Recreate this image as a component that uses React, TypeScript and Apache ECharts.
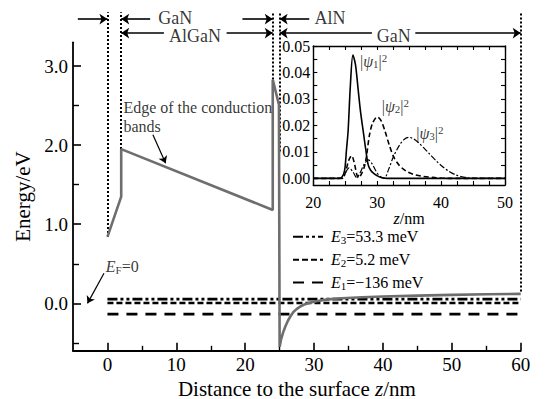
import React, { useEffect, useRef } from "react";
import * as echarts from "echarts";

const FONT = "Liberation Serif";

// ---------- main chart data ----------
const xLabelValues = [0, 10, 20, 30, 40, 50, 60];
const xMinorValues = [5, 15, 25, 35, 45, 55];
const yLabelValues = [0, 1, 2, 3];
const yMinorValues = [-0.5, 0.5, 1.5, 2.5];

// conduction band edge (z in nm, E in eV)
const cbZ = [0, 2, 2, 24, 24, 24.9, 25, 25.2, 25.5, 25.8, 26.2, 26.6, 27.0, 27.5, 28.0, 28.7, 29.5, 30.5, 32, 34, 37, 40, 45, 50, 55, 60];
const cbE = [0.84, 1.35, 1.95, 1.18, 2.83, 2.51, -0.55, -0.46, -0.37, -0.3, -0.22, -0.16, -0.11, -0.07, -0.04, -0.01, 0.01, 0.03, 0.05, 0.065, 0.077, 0.086, 0.098, 0.107, 0.114, 0.12];

// energy levels
const levelNames = ["E3", "E2", "E1"];
const levelSubs = ["3", "2", "1"];
const levelTexts = ["=53.3 meV", "=5.2 meV", "=\u2212136 meV"];
const levelValues = [0.0533, 0.0052, -0.136];
const levelRange = [0, 60];

// layer boundaries (dotted)
const boundaryZ = [0, 2, 24, 25, 60];
const boundaryBottom = [0.84, 1.95, 2.83, 1.92, 0.15];
const boundaryTop = 3.68;

// layer arrows [from z, to z] at two rows
const row1E = 3.594;
const row2E = 3.417;
const row1Arrows = [[-4.3, 0], [6.2, 2], [19.6, 24], [29.3, 25]];
const row2Arrows = [[8.2, 2], [17.3, 24], [38.4, 25], [44.7, 60]];
const layerLabels = ["GaN", "AlN", "AlGaN", "GaN"];
const layerLabelZ = [9.83, 30.05, 12.72, 41.57];
const layerLabelE = [3.61, 3.61, 3.38, 3.38];
const layerLabelAlign = ["center", "left", "center", "center"];

// annotation arrows [[z1,E1],[z2,E2]]
const noteArrows = [
  [[6.6, 2.13], [8.45, 1.77]],
  [[-0.5, 0.38], [-2.9, 0.0]],
];

// ---------- inset data ----------
const insetXTicks = [20, 22.5, 25, 27.5, 30, 32.5, 35, 37.5, 40, 42.5, 45, 47.5, 50];
const insetXLabels = [20, 30, 40, 50];
const insetYTicks = [0, 0.005, 0.01, 0.015, 0.02, 0.025, 0.03, 0.035, 0.04, 0.045, 0.05];
const insetYLabels = [0, 0.01, 0.02, 0.03, 0.04, 0.05];

const psiZ1 = [20, 24.0, 24.5, 24.9, 25.2, 25.45, 25.8, 26.2, 26.6, 27.0, 27.4, 27.8, 28.2, 28.6, 29.0, 29.5, 30.0, 30.5, 31.5, 50];
const psi1 = [0, 0, 0.0005, 0.003, 0.011, 0.018, 0.035, 0.0466, 0.043, 0.034, 0.025, 0.018, 0.011, 0.005, 0.003, 0.0018, 0.001, 0.0004, 0, 0];

const psiZ2 = [20, 24.5, 25.0, 25.5, 26.0, 26.4, 26.8, 27.1, 27.5, 28.0, 28.3, 28.8, 29.3, 30.0, 30.6, 31.2, 31.9, 32.6, 33.5, 34.5, 35.6, 37, 39, 41, 50];
const psi2 = [0, 0, 0.002, 0.0065, 0.0086, 0.006, 0.0015, 0.0002, 0.0015, 0.0045, 0.008, 0.0165, 0.021, 0.0232, 0.0218, 0.018, 0.0125, 0.008, 0.0048, 0.0028, 0.0016, 0.0008, 0.0003, 0, 0];

const psiZ3 = [20, 24.5, 25.0, 25.6, 26.2, 26.8, 27.3, 28.0, 28.6, 29.2, 29.8, 30.4, 31.1, 31.8, 32.5, 33.5, 34.3, 35.0, 35.7, 36.5, 37.3, 38.2, 39.2, 40.2, 41.2, 42.3, 43.5, 45.5, 50];
const psi3 = [0, 0, 0.002, 0.004, 0.0025, 0.0003, 0.002, 0.0055, 0.007, 0.0055, 0.0028, 0.0008, 0, 0.0035, 0.008, 0.0126, 0.0149, 0.0155, 0.0149, 0.0134, 0.0115, 0.0092, 0.0067, 0.0045, 0.0027, 0.0013, 0.0005, 0, 0];

const psiSubs = ["1", "2", "3"];
const psiLabelZ = [27.3, 30.7, 36.1];
const psiLabelV = [0.0443, 0.0273, 0.0171];

const pairs = (xs: number[], ys: number[]) => xs.map((x, i) => [x, ys[i]]);

const richBase = {
  i: { fontStyle: "italic", fontFamily: FONT, fontSize: 16, lineHeight: 14, color: "#000" },
  n: { fontFamily: FONT, fontSize: 16, lineHeight: 14, color: "#000" },
  sub: { fontFamily: FONT, fontSize: 11, lineHeight: 10, color: "#000", padding: [6, 0, 0, 0] },
  sup: { fontFamily: FONT, fontSize: 11, lineHeight: 10, color: "#000", padding: [0, 0, 6, 0] },
};

const tickStyle = (w: number) => ({ color: "#000", width: w });

export default function App() {
  const ref = useRef<HTMLDivElement>(null);
  useEffect(() => {
    if (!ref.current) return;
    const chart = echarts.init(ref.current, null, { renderer: "svg" });
    const levelDash: any[] = [[10, 3, 3, 3, 3, 3], [6, 3], [11, 8]];

    const textItem = (z: number, e: number, text: string, align: string, vAlign = "middle", extra: any = {}) => ({
      value: [z, e],
      label: { show: true, position: [0, 0], align, verticalAlign: vAlign, formatter: text, fontFamily: FONT, ...extra },
    });

    const option: any = {
      animation: false,
      backgroundColor: "#fff",
      textStyle: { fontFamily: FONT, color: "#000" },
      grid: [
        { left: 73, right: 24.3, top: 42.3, bottom: 48.2, outerBoundsMode: "none", containLabel: false },
        { left: 313.3, width: 191.7, top: 46, height: 139, outerBoundsMode: "none", containLabel: false },
      ],
      legend: {
        data: levelNames,
        orient: "vertical",
        left: 292,
        top: 228.3,
        padding: 0,
        itemWidth: 30,
        itemHeight: 14,
        itemGap: 5.85,
        selectedMode: false,
        itemStyle: { opacity: 0 },
        lineStyle: { opacity: 1 },
        formatter: (name: string) => {
          const k = levelNames.indexOf(name);
          return `{i|E}{sub|${levelSubs[k]}}{n|${levelTexts[k]}}`;
        },
        textStyle: { fontFamily: FONT, fontSize: 16, color: "#000", padding: [0, 0, 0, 3], rich: richBase },
      },
      xAxis: [
        {
          gridIndex: 0, type: "value", min: -5, max: 60, position: "bottom",
          axisLine: { onZero: false, lineStyle: { color: "#000", width: 1.8 } },
          axisTick: { inside: true, length: 8, customValues: xLabelValues, lineStyle: tickStyle(1.6) },
          axisLabel: { customValues: xLabelValues, margin: 4, fontSize: 19, fontFamily: FONT, color: "#000" },
          splitLine: { show: false },
          name: "Distance to the surface {i|z}{n|/nm}",
          nameLocation: "middle",
          nameGap: 19,
          nameTextStyle: {
            fontSize: 21, lineHeight: 21, fontFamily: FONT, color: "#000",
            rich: { i: { fontStyle: "italic", fontSize: 21, lineHeight: 21, fontFamily: FONT }, n: { fontSize: 21, lineHeight: 21, fontFamily: FONT } },
          },
        },
        {
          gridIndex: 0, type: "value", min: -5, max: 60, position: "bottom",
          axisLine: { show: false, onZero: false },
          axisTick: { inside: true, length: 5, customValues: xMinorValues, lineStyle: tickStyle(1.4) },
          axisLabel: { show: false },
          splitLine: { show: false },
        },
        {
          gridIndex: 1, type: "value", min: 20, max: 50, position: "bottom",
          axisLine: { onZero: false, lineStyle: { color: "#000", width: 1.4 } },
          axisTick: { inside: true, length: 4, customValues: insetXTicks, lineStyle: tickStyle(1.1) },
          axisLabel: { customValues: insetXLabels, margin: 9, fontSize: 16, fontFamily: FONT, color: "#000" },
          splitLine: { show: false },
          name: "{i|z}{n|/nm}",
          nameLocation: "middle",
          nameGap: 24,
          nameTextStyle: {
            fontSize: 16, lineHeight: 14, fontFamily: FONT, color: "#000",
            rich: { i: { fontStyle: "italic", fontSize: 16, lineHeight: 14, fontFamily: FONT }, n: { fontSize: 16, lineHeight: 14, fontFamily: FONT } },
          },
        },
        {
          gridIndex: 1, type: "value", min: 20, max: 50, position: "top",
          axisLine: { onZero: false, lineStyle: { color: "#000", width: 1.4 } },
          axisTick: { inside: true, length: 4, customValues: insetXTicks, lineStyle: tickStyle(1.1) },
          axisLabel: { show: false },
          splitLine: { show: false },
        },
      ],
      yAxis: [
        {
          gridIndex: 0, type: "value", min: -0.6, max: 3.3, position: "left",
          axisLine: { show: true, onZero: false, lineStyle: { color: "#000", width: 1.8 } },
          axisTick: { show: true, inside: true, length: 8, customValues: yLabelValues, lineStyle: tickStyle(1.6) },
          axisLabel: { customValues: yLabelValues, margin: 5, fontSize: 19, fontFamily: FONT, color: "#000", formatter: (v: number) => v.toFixed(1) },
          splitLine: { show: false },
          name: "Energy/eV",
          nameLocation: "middle",
          nameGap: 38,
          nameTextStyle: { fontSize: 21, fontFamily: FONT, color: "#000" },
        },
        {
          gridIndex: 0, type: "value", min: -0.6, max: 3.3, position: "left",
          axisLine: { show: false, onZero: false },
          axisTick: { show: true, inside: true, length: 6, customValues: yMinorValues, lineStyle: tickStyle(1.4) },
          axisLabel: { show: false },
          splitLine: { show: false },
        },
        {
          gridIndex: 1, type: "value", min: -0.0025, max: 0.05, position: "left",
          axisLine: { show: true, onZero: false, lineStyle: { color: "#000", width: 1.4 } },
          axisTick: { show: true, inside: true, length: 4, customValues: insetYTicks, lineStyle: tickStyle(1.1) },
          axisLabel: { customValues: insetYLabels, margin: 3, fontSize: 16, fontFamily: FONT, color: "#000", formatter: (v: number) => v.toFixed(2) },
          splitLine: { show: false },
        },
        {
          gridIndex: 1, type: "value", min: -0.0025, max: 0.05, position: "right",
          axisLine: { show: true, onZero: false, lineStyle: { color: "#000", width: 1.4 } },
          axisTick: { show: true, inside: true, length: 4, customValues: insetYTicks, lineStyle: tickStyle(1.1) },
          axisLabel: { show: false },
          splitLine: { show: false },
        },
      ],
      series: [
        {
          type: "line", name: "band", xAxisIndex: 0, yAxisIndex: 0, silent: true,
          data: pairs(cbZ, cbE), symbol: "none", z: 4,
          lineStyle: { color: "#6e6e6e", width: 2.6 },
        },
        ...levelNames.map((name, k) => ({
          type: "line", name, xAxisIndex: 0, yAxisIndex: 0, silent: true,
          data: levelRange.map((z) => [z, levelValues[k]]), symbol: "none", showSymbol: false, z: 3,
          itemStyle: { color: "#000" },
          lineStyle: { color: "#000", width: 2.6, type: levelDash[k] },
        })),
        {
          type: "lines", coordinateSystem: "cartesian2d", xAxisIndex: 0, yAxisIndex: 0, silent: true, clip: false,
          data: boundaryZ.map((z, k) => ({ coords: [[z, boundaryBottom[k]], [z, boundaryTop]] })),
          lineStyle: { color: "#000", width: 2, type: [2, 2], opacity: 1 },
        },
        {
          type: "lines", coordinateSystem: "cartesian2d", xAxisIndex: 0, yAxisIndex: 0, silent: true, clip: false,
          symbol: ["none", "arrow"], symbolSize: 8,
          data: [
            ...row1Arrows.map(([a, b]) => ({ coords: [[a, row1E], [b, row1E]] })),
            ...row2Arrows.map(([a, b]) => ({ coords: [[a, row2E], [b, row2E]] })),
          ],
          lineStyle: { color: "#000", width: 1.6, opacity: 1 },
        },
        {
          type: "lines", coordinateSystem: "cartesian2d", xAxisIndex: 0, yAxisIndex: 0, silent: true, clip: false,
          symbol: ["none", "arrow"], symbolSize: 7,
          data: noteArrows.map((c) => ({ coords: c })),
          lineStyle: { color: "#000", width: 1.2, opacity: 1 },
        },
        {
          type: "scatter", xAxisIndex: 0, yAxisIndex: 0, silent: true, clip: false, symbolSize: 0, z: 10,
          label: { fontFamily: FONT, color: "#000", fontSize: 19, rich: richBase },
          data: [
            ...layerLabels.map((t, k) =>
              textItem(layerLabelZ[k], layerLabelE[k], t, layerLabelAlign[k], "middle", { fontSize: 18, lineHeight: 13 })
            ),
            textItem(2.32, 2.6, "Edge of the conduction\nbands", "left", "top", { fontSize: 16, lineHeight: 19 }),
            textItem(-0.24, 0.46, "{i|E}{sub|F}{n|=0}", "left", "middle", { fontSize: 16 }),
          ],
        },
        ...[pairs(psiZ1, psi1), pairs(psiZ2, psi2), pairs(psiZ3, psi3)].map((d, k) => ({
          type: "line", name: "psi" + (k + 1), xAxisIndex: 2, yAxisIndex: 2, silent: true,
          data: d, symbol: "none", smooth: 0.3, z: 5,
          lineStyle: { color: "#000", width: k === 2 ? 1.2 : 1.6, type: k === 0 ? "solid" : k === 1 ? [5, 3] : [6, 2, 2, 2] },
        })),
        {
          type: "scatter", xAxisIndex: 2, yAxisIndex: 2, silent: true, clip: false, symbolSize: 0, z: 10,
          label: { fontFamily: FONT, color: "#000", fontSize: 16, rich: richBase },
          data: psiLabelZ.map((z, k) =>
            textItem(z, psiLabelV[k], `{n||}{i|\u03c8}{sub|${psiSubs[k]}}{n||}{sup|2}`, "left", "middle", { fontSize: 16 })
          ),
        },
      ],
    };
    chart.setOption(option);
    return () => chart.dispose();
  }, []);
  return <div ref={ref} style={{ width: 545, height: 399, position: "absolute", left: 0, top: 0 }} />;
}
